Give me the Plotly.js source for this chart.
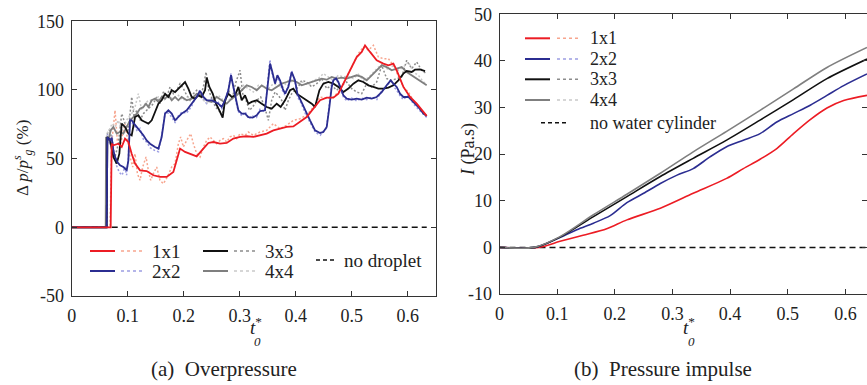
<!DOCTYPE html>
<html><head><meta charset="utf-8">
<script src="https://cdn.plot.ly/plotly-3.0.1.min.js"></script>
<style>html,body{margin:0;padding:0;background:#fff;overflow:hidden}#c{width:867px;height:385px}
.pre{position:absolute;left:2px;top:378px;font-family:'Liberation Serif';font-size:3px;line-height:3px;color:#fff;z-index:-1}</style>
</head><body><div class="pre">0<i>t</i></div><div id="c"></div>
<script>
// ---------- Data: (a) overpressure, Δp/p_g^s (%) vs t0* ----------
const r1T = [0,0.0696,0.0714,0.0744,0.0833,0.0893,0.0952,0.1012,0.1071,0.1131,0.122,0.1339,0.1458,0.1577,0.1696,0.1815,0.1875,0.1935,0.2024,0.2113,0.2232,0.2351,0.244,0.253,0.2649,0.2768,0.2887,0.3006,0.3125,0.3244,0.3363,0.3482,0.3601,0.372,0.3839,0.3958,0.4077,0.4196,0.4315,0.4435,0.4554,0.4673,0.4762,0.4851,0.497,0.5089,0.5179,0.5238,0.5327,0.5446,0.5565,0.5655,0.5744,0.5804,0.5923,0.6042,0.6161,0.625,0.6339];
const r1V = [0,0,60.9,59.7,60.9,58.5,64.6,62.1,53.6,46.4,41.5,41.0,37.9,36.7,36.7,40.3,48.8,57.3,54.9,53.6,51.7,57.3,61.4,62.1,60.9,61.4,64.6,65.8,66.3,65.8,67.0,68.2,70.6,71.8,73.1,73.5,76.7,80.3,86.4,92.5,94.4,94.4,97.3,104.6,114.3,124.0,127.7,132.5,127.7,121.6,119.2,118.0,119.2,114.3,102.2,94.9,90.0,85.2,81.1];
const r1dT = [0,0.0685,0.0714,0.0744,0.0774,0.0815,0.0863,0.0911,0.0952,0.1,0.1042,0.1089,0.1131,0.1173,0.122,0.1268,0.1327,0.1369,0.1411,0.1458,0.1518,0.1577,0.1637,0.1708,0.1786,0.1845,0.1905,0.1946,0.1994,0.2054,0.2125,0.2173,0.2232,0.2292,0.2351,0.2411,0.247,0.253,0.2589,0.2649,0.2708,0.2768,0.2827,0.2887,0.2946,0.3006,0.3095,0.3155,0.3244,0.3363,0.3482,0.3601,0.372,0.3839,0.3958,0.4077,0.4196,0.4315,0.4435,0.4554,0.4673,0.4792,0.4911,0.503,0.5119,0.5208,0.5298,0.5387,0.5476,0.5565,0.5655,0.5744,0.5833,0.5923,0.6012,0.6101,0.619,0.628,0.6339];
const r1dV = [0,0,60.9,73.1,85.2,63.3,58.5,68.2,75.5,63.3,51.2,43.9,53.6,39.1,34.2,43.9,51.2,41.5,34.2,39.1,43.9,34.2,31.8,36.7,43.9,46.4,60.9,65.8,58.5,63.3,68.2,60.9,53.6,51.2,58.5,63.3,65.8,63.3,60.9,63.3,64.6,62.1,65.8,67.0,64.6,68.2,67.0,69.4,67.0,69.4,70.6,75.5,71.8,74.3,77.9,79.1,81.6,87.6,94.9,93.7,94.9,99.8,109.5,119.2,126.5,131.3,128.9,132.5,124.0,122.8,122.8,118.0,109.5,102.2,98.5,92.5,87.6,82.8,81.1];

const b2T = [0,0.0625,0.0637,0.0685,0.0714,0.0744,0.0774,0.0815,0.0863,0.0923,0.0982,0.1012,0.1042,0.1071,0.1113,0.1161,0.122,0.128,0.1339,0.1399,0.1488,0.1548,0.1607,0.1667,0.1726,0.1786,0.1845,0.1905,0.1964,0.2054,0.2143,0.2232,0.2292,0.2351,0.2411,0.25,0.256,0.2619,0.2679,0.2738,0.2798,0.2845,0.2887,0.2935,0.2976,0.3036,0.3095,0.3155,0.3232,0.3304,0.3363,0.3452,0.3512,0.3542,0.3583,0.3631,0.3673,0.372,0.3768,0.381,0.3869,0.3929,0.3988,0.403,0.4089,0.4167,0.4256,0.4345,0.4435,0.4494,0.4554,0.4601,0.4643,0.4673,0.472,0.4762,0.481,0.4851,0.4911,0.5,0.5089,0.5179,0.5268,0.5357,0.5446,0.5536,0.5625,0.5696,0.5744,0.5804,0.5863,0.5923,0.6012,0.6101,0.619,0.628,0.6339];
const b2V = [0,0,65.8,63.3,65.3,56.1,51.2,47.6,45.1,43.9,41.5,48.8,77.9,77.9,75.5,73.1,70.6,67.0,63.3,60.9,58.5,57.3,65.8,82.8,85.2,82.8,77.9,80.3,82.8,85.2,90.0,94.9,99.3,94.9,92.5,92.5,91.3,90.0,87.6,92.5,99.8,110.7,102.2,92.5,85.2,82.8,82.8,80.3,79.9,81.6,84.7,85.2,107.0,119.2,113.1,104.6,110.7,107.0,101.0,97.3,102.2,113.1,107.0,97.3,92.5,85.2,77.9,70.6,68.7,69.4,73.1,87.6,102.2,107.0,108.3,105.8,101.0,96.1,93.7,93.0,93.7,93.0,94.4,93.7,94.9,98.5,103.4,107.0,104.6,102.2,97.3,94.9,94.9,91.3,87.6,82.8,81.1];
const b2dT = [0,0.0625,0.0637,0.068,0.072,0.076,0.08,0.085,0.09,0.095,0.098,0.101,0.104,0.108,0.112,0.117,0.122,0.128,0.134,0.14,0.148,0.155,0.161,0.167,0.173,0.179,0.185,0.19,0.197,0.205,0.214,0.223,0.229,0.235,0.241,0.25,0.256,0.262,0.268,0.274,0.28,0.2845,0.289,0.294,0.298,0.304,0.31,0.316,0.323,0.33,0.336,0.345,0.351,0.354,0.358,0.363,0.367,0.372,0.377,0.381,0.387,0.393,0.399,0.403,0.409,0.417,0.426,0.435,0.444,0.449,0.455,0.46,0.464,0.467,0.472,0.476,0.481,0.485,0.491,0.5,0.509,0.518,0.527,0.536,0.545,0.554,0.563,0.57,0.574,0.58,0.586,0.592,0.601,0.61,0.619,0.628,0.634];
const b2dV = [0,0,68,60,67,52,45,40,38,44,38,50,80,76,74,70,72,64,62,58,56,55,68,84,83,80,76,81,84,83,88,96,100,93,90,94,89,91,86,93,101,112,100,90,84,81,84,79,81,80,86,84,110,122,111,106,109,105,99,96,104,114,105,95,91,83,76,69,67,70,72,89,104,108,110,104,99,95,92,94,92,94,93,95,93,100,102,108,103,100,96,93,96,90,86,82,80];

const k3T = [0,0.0625,0.0637,0.0685,0.0744,0.0804,0.0851,0.0893,0.0952,0.1012,0.1071,0.1131,0.119,0.125,0.131,0.1369,0.1429,0.1488,0.1548,0.1607,0.1667,0.1726,0.1786,0.1845,0.1905,0.1964,0.2024,0.2083,0.2143,0.2202,0.2262,0.2321,0.2381,0.2411,0.2458,0.2518,0.2577,0.2637,0.2696,0.2738,0.2798,0.2857,0.2917,0.2976,0.3036,0.3095,0.3155,0.3214,0.3304,0.3393,0.3482,0.3571,0.3661,0.3732,0.381,0.3899,0.3958,0.4018,0.4107,0.4196,0.4286,0.4345,0.4423,0.4494,0.4583,0.4673,0.4762,0.4851,0.494,0.503,0.5119,0.5208,0.5298,0.5387,0.5476,0.5565,0.5655,0.5744,0.5833,0.5923,0.5982,0.6071,0.6131,0.622,0.631];
const k3V = [0,0,65.8,63.3,51.2,46.4,53.6,75.5,73.1,68.2,67.0,80.3,81.6,77.9,76.7,75.5,77.9,84.0,90.0,92.5,97.3,94.9,99.8,98.5,101.0,103.4,105.8,101.0,94.9,93.7,96.1,94.9,99.8,109.0,102.2,97.3,90.0,85.2,79.9,92.5,97.3,94.9,96.1,102.2,92.5,96.1,90.0,91.3,92.5,90.0,87.6,86.4,90.0,87.6,92.5,99.8,101.0,97.3,94.9,92.5,90.0,87.6,99.8,104.6,105.8,104.6,102.2,98.5,101.0,104.6,107.0,105.8,103.4,102.2,101.0,101.0,101.7,103.4,107.0,111.9,113.8,113.1,114.8,115.0,113.8];
const k3dT = [0,0.0625,0.0637,0.0685,0.0732,0.0774,0.0833,0.0893,0.0952,0.1012,0.1071,0.1113,0.1161,0.122,0.128,0.1339,0.1399,0.1458,0.1518,0.1577,0.1637,0.1696,0.1756,0.1815,0.1875,0.1935,0.1994,0.2054,0.2113,0.2173,0.2232,0.2292,0.2351,0.2399,0.2446,0.2506,0.2565,0.2625,0.2685,0.2744,0.2804,0.2863,0.2923,0.3006,0.3054,0.3113,0.3173,0.3232,0.3304,0.3375,0.3446,0.3512,0.3571,0.3631,0.369,0.375,0.381,0.3869,0.3929,0.3988,0.4048,0.4107,0.4196,0.4286,0.4375,0.4464,0.4554,0.4643,0.4732,0.4821,0.4911,0.5,0.5089,0.5179,0.5268,0.5357,0.5446,0.5536,0.5625,0.5714,0.5804,0.5893,0.5982,0.6071,0.6161,0.625,0.6339];
const k3dV = [0,0,68.2,71.8,56.1,51.2,60.9,82.8,75.5,70.6,94.9,80.3,85.2,77.9,82.8,85.2,87.6,90.0,94.9,90.0,98.5,94.9,102.2,97.3,99.8,104.6,101.0,96.1,92.5,97.3,99.8,94.9,102.2,113.1,99.8,93.7,87.6,85.2,81.6,92.5,99.8,92.5,104.6,114.3,97.3,92.5,85.2,87.6,92.5,94.9,87.6,77.9,92.5,98.5,96.1,92.5,85.2,92.5,97.3,99.8,102.2,107.0,105.8,102.2,104.6,108.3,101.0,103.4,99.8,103.4,105.8,101.0,98.5,97.3,104.6,102.2,105.8,118.0,108.3,107.0,108.3,109.5,121.6,115.5,120.4,114.3,111.9];

const g4T = [0,0.0607,0.0613,0.0655,0.0696,0.0744,0.0804,0.0863,0.0923,0.0982,0.1042,0.1101,0.1161,0.122,0.128,0.1327,0.1369,0.1429,0.1488,0.1548,0.1607,0.1667,0.1726,0.1786,0.1845,0.1905,0.1964,0.2054,0.2143,0.2232,0.2321,0.2411,0.25,0.2589,0.2679,0.2768,0.2857,0.2946,0.3036,0.3125,0.3214,0.3304,0.3393,0.3482,0.3571,0.3661,0.375,0.3839,0.3929,0.4018,0.4107,0.4196,0.4286,0.4375,0.4464,0.4554,0.4643,0.4732,0.4821,0.4911,0.5,0.5089,0.5179,0.5268,0.5357,0.5446,0.5536,0.5625,0.5714,0.5804,0.5893,0.5982,0.6071,0.6161,0.625,0.6339];
const g4V = [0,0,65.8,63.3,70.6,73.1,68.2,69.4,68.2,73.1,77.9,80.3,82.8,86.4,87.6,90.0,87.6,92.5,93.7,91.3,94.9,93.7,96.1,92.5,94.9,92.5,94.9,92.5,93.7,97.3,96.1,92.5,91.3,94.9,92.5,90.0,93.7,96.1,99.8,103.4,102.2,99.8,103.4,101.0,99.8,102.2,104.6,105.8,107.0,105.8,103.4,104.6,105.8,107.0,108.3,107.5,109.5,108.3,109.0,108.3,109.5,110.7,109.5,107.0,110.7,114.3,118.0,116.7,114.3,115.5,116.7,113.1,110.7,108.3,105.8,103.4];
const g4dT = [0,0.0607,0.0625,0.0673,0.072,0.0774,0.0833,0.0893,0.0952,0.1012,0.1071,0.1131,0.119,0.125,0.131,0.1369,0.1458,0.1548,0.1637,0.1726,0.1815,0.1905,0.1994,0.2083,0.2173,0.2262,0.2351,0.244,0.253,0.2619,0.2708,0.2798,0.2887,0.2976,0.3065,0.3155,0.3244,0.3333,0.3423,0.3512,0.3601,0.369,0.378,0.3869,0.3958,0.4048,0.4137,0.4226,0.4315,0.4405,0.4494,0.4583,0.4673,0.4762,0.4851,0.494,0.503,0.5119,0.5208,0.5298,0.5387,0.5476,0.5565,0.5655,0.5744,0.5833,0.5923,0.6012,0.6101,0.619,0.628,0.6339];
const g4dV = [0,0,68.2,70.6,75.5,73.1,77.9,69.4,75.5,80.3,82.8,87.6,97.3,85.2,90.0,92.5,92.5,94.9,92.5,94.9,93.7,96.1,92.5,94.9,92.5,97.3,92.5,90.0,93.7,96.1,92.5,92.5,94.9,99.8,103.4,101.0,98.5,103.4,102.2,101.0,104.6,103.4,102.2,107.0,105.8,104.6,105.8,103.4,107.0,108.3,111.9,109.5,107.0,110.7,109.5,110.0,108.3,111.4,107.0,109.0,113.1,116.7,119.2,114.3,118.0,114.3,116.7,120.4,113.1,110.7,105.8,104.6];

const refA_T = [0,0.634], refA_V = [0,0];

// ---------- Data: (b) pressure impulse I (Pa.s) vs t0* ----------
const r1iT = [0,0.068,0.105,0.145,0.186,0.221,0.279,0.336,0.394,0.423,0.452,0.481,0.51,0.539,0.568,0.597,0.6375];
const r1iV = [0,0,1.3,2.6,4.0,5.9,8.4,11.6,14.8,16.9,18.9,21.2,24.4,27.4,29.9,31.5,32.6];
const b2iT = [0,0.062,0.099,0.134,0.163,0.192,0.221,0.25,0.279,0.308,0.336,0.365,0.394,0.423,0.452,0.481,0.51,0.539,0.568,0.597,0.6375];
const b2iV = [0,0,1.8,3.8,5.2,6.8,9.6,11.6,13.7,15.5,16.9,19.4,21.6,23.0,24.4,26.9,28.7,30.5,32.6,34.7,37.2];
const k3iT = [0,0.062,0.105,0.163,0.221,0.279,0.336,0.394,0.452,0.51,0.568,0.6375];
const k3iV = [0,0,2.2,6.6,10.9,15.2,19.1,23.0,27.3,31.7,36.2,40.4];
const g4iT = [0,0.06,0.105,0.163,0.221,0.279,0.336,0.394,0.452,0.51,0.568,0.6375];
const g4iV = [0,0,2.3,7.0,11.4,15.9,20.5,24.9,29.4,34.0,38.6,42.9];
const refB_T = [0,0.6375], refB_V = [0,0];

// ---------- Ticks / labels ----------
const xTicks = [0,0.1,0.2,0.3,0.4,0.5,0.6];
const xTickText = ["0","0.1","0.2","0.3","0.4","0.5","0.6"];
const yaTicks = [-50,0,50,100,150];
const yaTickText = ["-50","0","50","100","150"];
const ybTicks = [-10,0,10,20,30,40,50];
const ybTickText = ["-10","0","10","20","30","40","50"];
const caseNames = ["1x1","2x2","3x3","4x4"];

// ---------- Styles ----------
const SOLID = ["#ec1c24","#2b2d91","#111111","#7f7f7f"];
const DOTC = ["#f7a58e","#9c9de2","#8c8c8c","#c9c9c9"];
const FONT = "Liberation Serif";

function L(x,y,color,w,dash,xa,ya,shape){return {x:x,y:y,type:"scatter",mode:"lines",line:{color:color,width:w,dash:dash||"solid",shape:shape||"linear",smoothing:0.8},xaxis:xa,yaxis:ya,showlegend:false,hoverinfo:"skip"};}
const dots = "2px,2px";
const traces = [
  L(r1dT,r1dV,DOTC[0],1.5,dots,"x","y"),
  L(b2dT,b2dV,DOTC[1],1.5,dots,"x","y"),
  L(k3dT,k3dV,DOTC[2],1.5,dots,"x","y"),
  L(g4dT,g4dV,DOTC[3],1.5,dots,"x","y"),
  L(refA_T,refA_V,"#111",1.5,"6px,4px","x","y"),
  L(g4T,g4V,SOLID[3],1.8,null,"x","y"),
  L(k3T,k3V,SOLID[2],1.8,null,"x","y"),
  L(b2T,b2V,SOLID[1],1.8,null,"x","y"),
  L(r1T,r1V,SOLID[0],1.8,null,"x","y"),
  L(refB_T,refB_V,"#111",1.5,"6px,4px","x2","y2"),
  L(r1iT,r1iV,SOLID[0],1.6,null,"x2","y2","spline"),
  L(b2iT,b2iV,SOLID[1],1.6,null,"x2","y2","spline"),
  L(k3iT,k3iV,SOLID[2],1.6,null,"x2","y2","spline"),
  L(g4iT,g4iV,SOLID[3],1.6,null,"x2","y2","spline")
];

const W=867,H=385;
const px = v=>v/W, py = v=>1-v/H;
const axBase = {showline:true,mirror:"allticks",linecolor:"#333",linewidth:1,ticks:"inside",ticklen:5,tickcolor:"#333",showgrid:false,zeroline:false,tickfont:{family:FONT,size:18,color:"#222"},tickmode:"array"};

const layout = {
  width:W,height:H,margin:{l:0,r:0,t:0,b:0},paper_bgcolor:"#fff",plot_bgcolor:"#fff",showlegend:false,
  font:{family:FONT,size:17,color:"#222"},
  xaxis:Object.assign({},axBase,{domain:[px(71.7),px(435.7)],range:[0,0.65],tickvals:xTicks,ticktext:xTickText,anchor:"y",ticklabelstandoff:3}),
  yaxis:Object.assign({},axBase,{domain:[py(296),py(21.3)],range:[-50,150],tickvals:yaTicks,ticktext:yaTickText,anchor:"x",ticklabelstandoff:3}),
  xaxis2:Object.assign({},axBase,{domain:[px(499.5),1],range:[0,0.6375],tickvals:xTicks,ticktext:xTickText,anchor:"y2",ticklabelstandoff:3}),
  yaxis2:Object.assign({},axBase,{domain:[py(294),py(14.3)],range:[-10,50],tickvals:ybTicks,ticktext:ybTickText,anchor:"x2",ticklabelstandoff:3}),
  shapes:[],annotations:[]
};

function txt(x,y,t,size,opts){return Object.assign({xref:"paper",yref:"paper",x:px(x),y:py(y),text:t,showarrow:false,font:{family:FONT,size:size,color:"#222"},xanchor:"left",yanchor:"middle"},opts||{});}
function seg(x0,x1,y,color,dash,w){return {type:"line",xref:"paper",yref:"paper",x0:px(x0),x1:px(x1),y0:py(y),y1:py(y),line:{color:color,width:w||2,dash:dash||"solid"}};}

// Left legend (2 columns of pairs + reference)
const legA = [[0,90,251],[1,90,271],[2,203,251],[3,203,271]];
legA.forEach(([i,x0,y])=>{
  layout.shapes.push(seg(x0,x0+25,y,SOLID[i]));
  layout.shapes.push(seg(x0+31,x0+55,y,DOTC[i],"dot",1.5));
  layout.annotations.push(txt(x0+60,y,caseNames[i],19));
});
layout.shapes.push(seg(316,337,260,"#111","4px,3px",1.5));
layout.annotations.push(txt(342,260,"no droplet",19));

// Right legend
[38.3,59,79.3,100].forEach((y,i)=>{
  layout.shapes.push(seg(525,550,y,SOLID[i]));
  layout.shapes.push(seg(557,580,y,DOTC[i],"dot",1.5));
  layout.annotations.push(txt(588,y,caseNames[i],18));
});
layout.shapes.push(seg(541,566,122.7,"#111","4px,3px",1.5));
layout.annotations.push(txt(588,122.7,"no water cylinder",18));

// Axis titles
layout.annotations.push(txt(22,158,"Δ <i>p</i>/<i>p</i><sup><i>s</i></sup><sub><i>g</i></sub> (%)",17,{textangle:-90,xanchor:"center"}));
layout.annotations.push(txt(468,150,"<i>I</i> (Pa.s)",18,{textangle:-90,xanchor:"center"}));
[251.5,685].forEach(cx=>{
  layout.annotations.push(txt(cx-4,326,"<i>t</i><sup>*</sup>",19,{xanchor:"left"}));
  layout.annotations.push(txt(cx+6,341,"<i>0</i>",13,{xanchor:"center"}));
});
// Captions
layout.annotations.push(txt(224,369,"(a)&nbsp;&nbsp;Overpressure",21,{xanchor:"center"}));
layout.annotations.push(txt(663,369,"(b)&nbsp;&nbsp;Pressure impulse",21,{xanchor:"center"}));

Plotly.newPlot("c",traces,layout,{staticPlot:true,displayModeBar:false});
if (document.fonts && document.fonts.load) {
  document.fonts.load('17px "Liberation Serif"').then(()=>Plotly.react("c",traces,layout,{staticPlot:true,displayModeBar:false}));
}
</script></body></html>
